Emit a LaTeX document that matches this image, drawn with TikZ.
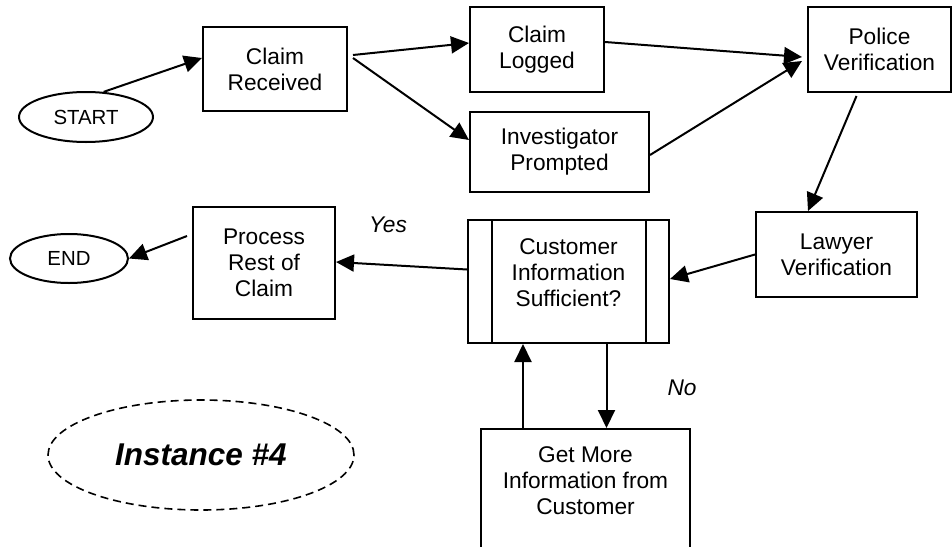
\documentclass[tikz,border=0pt]{standalone}
\usepackage{fontspec}
\setmainfont{Liberation Sans}
\usetikzlibrary{arrows.meta,shapes.geometric}
\begin{document}
\begin{tikzpicture}[x=1pt,y=-1pt,
  every node/.style={font=\fontsize{22.7}{26}\selectfont, align=center, inner sep=0pt},
  box/.style={draw, line width=2pt, rectangle},
  oval/.style={draw, line width=2pt, ellipse, font=\fontsize{20.4}{24}\selectfont},
  arr/.style={line width=2pt, -{Triangle[length=18pt,width=17pt]}},
  lbl/.style={font=\fontsize{22.7}{26}\selectfont\itshape}]
\useasboundingbox (0,0) rectangle (952,546);

% terminals
\node[oval, minimum width=134pt, minimum height=50pt] (start) at (86,117) {START};
\node[oval, minimum width=118pt, minimum height=49pt] (endn) at (69,258.5) {END};

% process steps
\node[box, minimum width=144pt, minimum height=84pt] (recv) at (275,69) {Claim\\Received};
\node[box, minimum width=134pt, minimum height=85pt] (logged) at (537,49.5) {Claim\\Logged};
\node[box, minimum width=179pt, minimum height=80pt] (invest) at (559.5,152) {Investigator\\Prompted};
\node[box, minimum width=143pt, minimum height=85pt] (police) at (879.5,49.5) {Police\\Verification};
\node[box, minimum width=161pt, minimum height=85pt] (lawyer) at (836.5,254.5) {Lawyer\\Verification};
\node[box, minimum width=142pt, minimum height=112pt] (process) at (264,263) {Process\\Rest of\\Claim};

% predefined-process box for the decision
\node[box, minimum width=201pt, minimum height=123pt] (decide) at (568.5,281.5) {};
\draw[line width=2pt] ([xshift=25pt]decide.north west) -- ([xshift=25pt]decide.south west);
\draw[line width=2pt] ([xshift=-24pt]decide.north east) -- ([xshift=-24pt]decide.south east);
\node (decidetxt) at (568.5,272.5) {Customer\\Information\\Sufficient?};

% follow-up step, running off the lower edge
\node[box, minimum width=209pt, minimum height=140pt, anchor=north] (getmore) at (585.5,428) {};
\node (getmoretxt) at (585.5,481) {Get More\\Information from\\Customer};

% instance tag
\node[draw, ellipse, line width=1.6pt, dash pattern=on 8pt off 5pt,
      minimum width=306pt, minimum height=110pt,
      font=\fontsize{31.5}{36}\selectfont\bfseries\itshape] (inst) at (201,455) {Instance \#4};

% connectors
\draw[arr] (start.55) -- ([yshift=11pt]recv.west);
\draw[arr] ([xshift=5pt,yshift=14pt]recv.east) -- ([yshift=6.5pt]logged.west);
\draw[arr] ([xshift=5pt,yshift=11pt]recv.east) -- ([yshift=12pt]invest.west);
\draw[arr] ([yshift=7.5pt]logged.east) -- ([xshift=-5pt,yshift=-7.5pt]police.west);
\draw[arr] ([yshift=-3pt]invest.east) -- ([xshift=-5pt,yshift=-11.5pt]police.west);
\draw[arr] ([xshift=-23pt,yshift=-3pt]police.south) -- ([xshift=-28.5pt]lawyer.north);
\draw[arr] (lawyer.west) -- ([yshift=2.5pt]decide.east);
\draw[arr] ([yshift=12pt]decide.west) -- ([yshift=1pt]process.east);
\draw[arr] ([xshift=-5pt,yshift=27pt]process.west) -- (endn.east);
\draw[arr] ([xshift=38pt]decide.south) -- ([xshift=21pt]getmore.north);
\draw[arr] ([xshift=-62.5pt]getmore.north) -- ([xshift=-45.5pt]decide.south);

% branch labels
\node[lbl] (yes) at (388,225) {Yes};
\node[lbl] (no) at (682,388) {No};
\end{tikzpicture}
\end{document}
